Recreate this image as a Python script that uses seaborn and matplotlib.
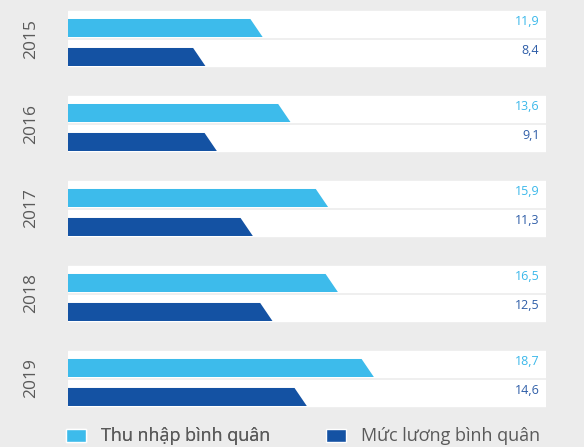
import numpy as np
import pandas as pd
import matplotlib
matplotlib.use("Agg")
import matplotlib.pyplot as plt
from matplotlib.patches import Polygon, Patch
import seaborn as sns

# ---- data ----
years = ["2015", "2016", "2017", "2018", "2019"]
thu_nhap = [11.9, 13.6, 15.9, 16.5, 18.7]
muc_luong = [8.4, 9.1, 11.3, 12.5, 14.6]
series = ["Thu nhập bình quân", "Mức lương bình quân"]

# ---- style ----
sns.set_style("white")
plt.rcParams["font.family"] = ["Open Sans", "DejaVu Sans"]

BG = "#ececec"
LIGHT = "#3dbbeb"
DARK = "#1452a3"
LABEL_COLORS = {0: "#3bb8ea", 1: "#2f5ea8"}
TEXT_GREY = "#5a5a5a"

XMAX = 29.2          # full track length (data units)
SLANT = 0.75         # slanted end (data units)
BAR_H = 0.212        # bar thickness (category units)
WIDTH = 0.682
GAP = 0.103

df = pd.DataFrame({
    "year": years * 2,
    "series": [series[0]] * len(years) + [series[1]] * len(years),
    "value": thu_nhap + muc_luong,
})
df_track = df.assign(value=XMAX)

W, H = 584, 447
fig = plt.figure(figsize=(W / 100, H / 100), dpi=100, facecolor=BG)
ax = fig.add_axes([68 / W, 0, (545.6 - 68) / W, 1])
ax.set_facecolor(BG)

# white tracks
sns.barplot(data=df_track, x="value", y="year", hue="series", hue_order=series,
            palette=["white", "white"], width=WIDTH, gap=GAP, saturation=1,
            legend=False, ax=ax, orient="h")
n_track = len(ax.patches)

# value bars
sns.barplot(data=df, x="value", y="year", hue="series", hue_order=series,
            palette=[LIGHT, DARK], width=WIDTH, gap=GAP, saturation=1,
            legend=False, ax=ax, orient="h")

bar_patches = list(ax.patches[n_track:])
for p in bar_patches:
    x0, y0 = p.get_x(), p.get_y()
    w, h = p.get_width(), p.get_height()
    if np.isnan(w) or w == 0:
        p.remove()
        continue
    fc = p.get_facecolor()
    bottom = y0 + h
    top = bottom - BAR_H
    poly = Polygon([(x0, top), (x0 + w - SLANT, top), (x0 + w, bottom), (x0, bottom)],
                   closed=True, facecolor=fc, edgecolor="none", zorder=3)
    ax.add_patch(poly)
    idx = 0 if np.allclose(fc[:3], matplotlib.colors.to_rgb(LIGHT), atol=0.02) else 1
    label = f"{w:.1f}".replace(".", ",")
    ax.text(XMAX - 0.38, y0 + h / 2 - 0.035, label, ha="right", va="center",
            fontsize=9, color=LABEL_COLORS[idx], zorder=4)
    p.remove()

ax.set_xlim(0, XMAX)
ax.set_ylim(4.806, -0.453)
ax.set_xlabel("")
ax.set_ylabel("")
ax.set_xticks([])
ax.tick_params(axis="y", length=0, pad=21)
ax.set_yticks(range(len(years)))
ax.set_yticklabels(years, rotation=90, va="center", fontsize=12.5, color=TEXT_GREY)
for s in ax.spines.values():
    s.set_visible(False)

# legend
leg_kw = dict(frameon=False, fontsize=13, handlelength=20 / 18, handleheight=13 / 18,
              handletextpad=0.85, borderpad=0, borderaxespad=0, loc="center left",
              labelcolor=TEXT_GREY)
l1 = fig.legend(handles=[Patch(facecolor=LIGHT, label=series[0])],
                bbox_to_anchor=(66 / W, 10.6 / H), **leg_kw)
fig.add_artist(l1)
fig.legend(handles=[Patch(facecolor=DARK, label=series[1])],
           bbox_to_anchor=(326 / W, 10.6 / H), **leg_kw)

fig.savefig("out.png", dpi=100, facecolor=BG)
